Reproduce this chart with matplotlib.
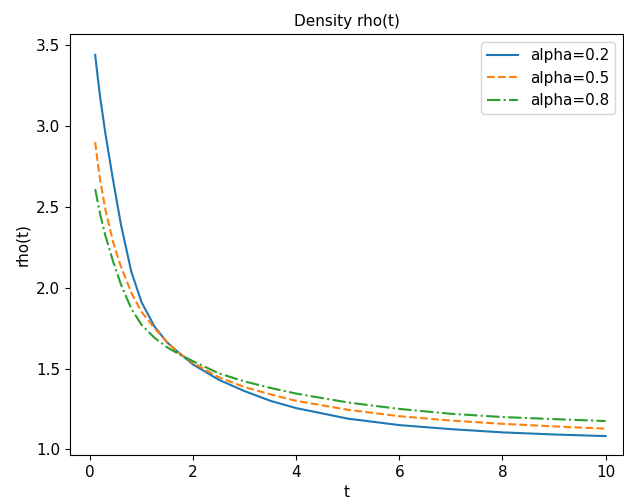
import matplotlib
matplotlib.use("Agg")
import matplotlib.pyplot as plt

# ---------------------------------------------------------
# Values
# ---------------------------------------------------------

t = [0.1, 0.15, 0.2, 0.3, 0.45, 0.6, 0.8, 1.0, 1.25, 1.5, 1.75,
     2.0, 2.5, 3.0, 3.5, 4.0, 5.0, 6.0, 7.0, 8.0, 9.0, 10.0]

rho_02 = [3.44, 3.30, 3.17, 2.95, 2.66, 2.39, 2.10, 1.91, 1.76, 1.66, 1.59,
          1.525, 1.43, 1.36, 1.30, 1.255, 1.19, 1.15, 1.125, 1.105, 1.092, 1.082]

rho_05 = [2.90, 2.77, 2.66, 2.48, 2.28, 2.13, 1.97, 1.85, 1.75, 1.66, 1.59,
          1.535, 1.445, 1.385, 1.34, 1.30, 1.245, 1.205, 1.178, 1.158, 1.142, 1.128]

rho_08 = [2.61, 2.53, 2.45, 2.32, 2.16, 2.02, 1.87, 1.77, 1.69, 1.63, 1.585,
          1.545, 1.47, 1.42, 1.38, 1.345, 1.29, 1.25, 1.22, 1.20, 1.187, 1.175]

labels = ["alpha=0.2", "alpha=0.5", "alpha=0.8"]


def main():

    plt.rcParams["font.size"] = 11

    fig = plt.figure(figsize=(6.24, 5.04), dpi=100)
    ax = fig.add_axes([0.1122, 0.0972, 0.886, 0.835])

    ax.plot(t, rho_02, "-", label=labels[0])
    ax.plot(t, rho_05, "--", label=labels[1])
    ax.plot(t, rho_08, "-.", label=labels[2])

    ax.set_xlim(-0.388, 10.335)
    ax.set_ylim(0.965, 3.568)

    ax.set_title("Density rho(t)", fontsize=11)
    ax.set_xlabel("t")
    ax.set_ylabel("rho(t)")

    ax.legend(loc="upper right")

    fig.savefig("out.png", dpi=100)


if __name__ == "__main__":
    main()
